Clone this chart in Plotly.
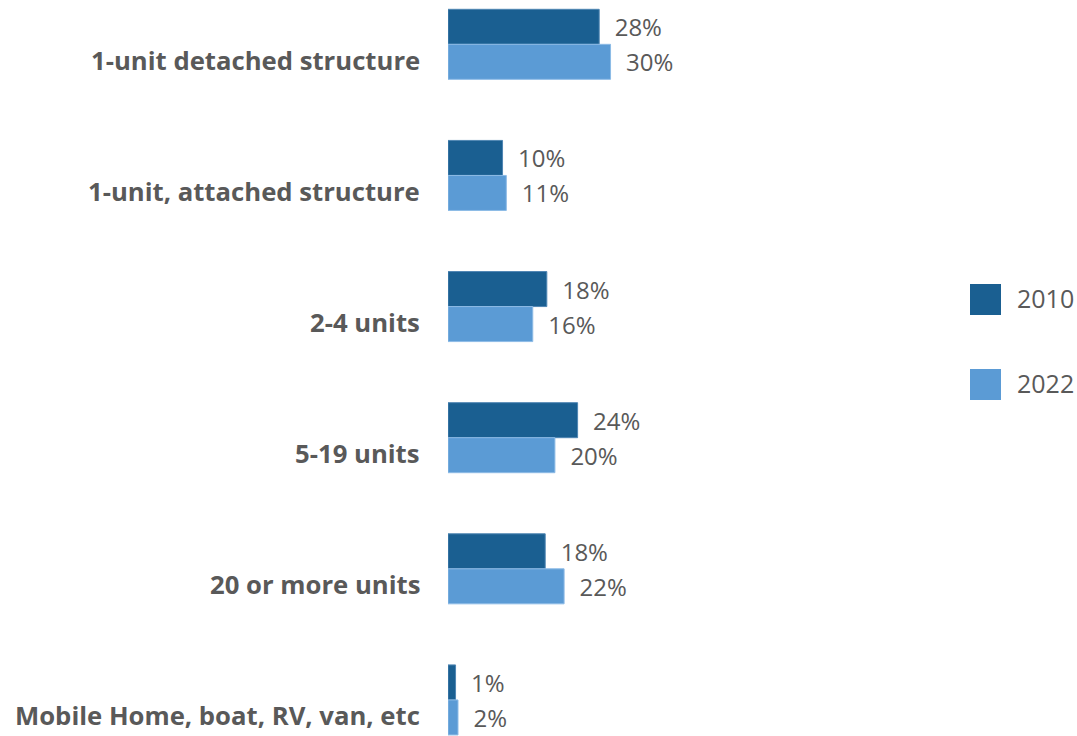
import plotly.graph_objects as go

# ---- data ----
categories = [
    "1-unit detached structure",
    "1-unit, attached structure",
    "2-4 units",
    "5-19 units",
    "20 or more units",
    "Mobile Home, boat, RV, van, etc",
]
series_names = ["2010", "2022"]
values_2010 = [28.0, 10.1, 18.3, 24.0, 18.0, 1.4]
values_2022 = [30.1, 10.8, 15.7, 19.8, 21.5, 1.85]

# ---- style ----
W, H = 1077, 736
ML, MR, MT, MB = 448, 0, 0, 0
colors = ["#1a5f91", "#5b9bd5"]
edge_colors = ["#4f86b3", "#8dbbe6"]
text_color = "#595959"
FONT = "Open Sans"

fig = go.Figure()
for name, vals, col, ecol in zip(series_names, [values_2010, values_2022], colors, edge_colors):
    fig.add_trace(go.Bar(
        name=name,
        y=categories,
        x=vals,
        orientation="h",
        marker=dict(color=col, line=dict(color=ecol, width=1)),
        texttemplate="\u00a0\u00a0%{x:.0f}%",
        textposition="outside",
        constraintext="none",
        cliponaxis=False,
        textfont=dict(family=FONT, size=24, color=text_color),
        showlegend=False,
        hoverinfo="skip",
    ))

pw = W - ML - MR
ph = H - MT - MB


def px_x(p):
    return (p - ML) / pw


def px_y(p):
    return 1 - (p - MT) / ph


# category labels, sitting slightly below the group centre
for c in categories:
    fig.add_annotation(
        x=0, xref="paper", y=c, yref="y",
        text="<b>%s</b>" % c, showarrow=False,
        xanchor="right", yanchor="middle", xshift=-26, yshift=-16,
        font=dict(family=FONT, size=25.7, color=text_color),
    )

# custom legend
leg_tops = [284, 369]
for name, col, top in zip(series_names, colors, leg_tops):
    fig.add_shape(type="rect", xref="paper", yref="paper",
                  x0=px_x(970), x1=px_x(1001), y0=px_y(top), y1=px_y(top + 31),
                  fillcolor=col, line=dict(width=0))
    fig.add_annotation(x=px_x(1015), xref="paper", y=px_y(top + 14), yref="paper",
                       text=name, showarrow=False, xanchor="left", yanchor="middle",
                       font=dict(family=FONT, size=25, color=text_color))

fig.update_layout(
    width=W, height=H,
    margin=dict(l=ML, r=MR, t=MT, b=MB, pad=0),
    barmode="group", bargap=0.466, bargroupgap=0,
    plot_bgcolor="white", paper_bgcolor="white",
    showlegend=False,
    xaxis=dict(range=[0, pw / 5.4], visible=False, showgrid=False, zeroline=False),
    yaxis=dict(type="category", range=[5.275, -0.338], showticklabels=False,
               showgrid=False, zeroline=False, showline=False, ticks=""),
    font=dict(family=FONT, color=text_color),
)

fig.write_html("out.html", config={"displayModeBar": False})

# remove the default page margin so the figure sits at the window's corner
with open("out.html", "r", encoding="utf-8") as f:
    html = f.read()
html = html.replace("<head>", "<head><style>html,body{margin:0;padding:0;overflow:hidden;}</style>", 1)
with open("out.html", "w", encoding="utf-8") as f:
    f.write(html)
